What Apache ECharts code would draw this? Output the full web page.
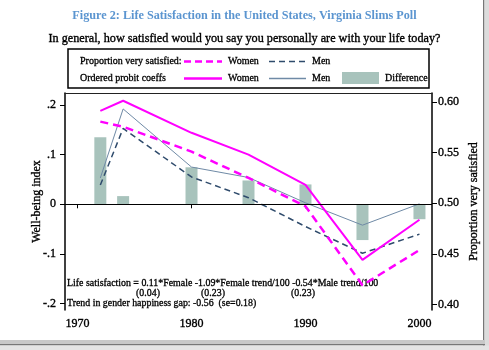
<!DOCTYPE html>
<html>
<head>
<meta charset="utf-8">
<script src="https://cdn.jsdelivr.net/npm/echarts@6/dist/echarts.min.js"></script>
<style>
  html, body { margin: 0; padding: 0; background: #fff; }
  #chart { width: 489px; height: 350px; }
</style>
</head>
<body>
<div id="chart"></div>
<script>
// data
const years = [1972, 1974, 1980, 1985, 1990, 1995, 2000]
const womenProbit = [0.188, 0.2085, 0.144, 0.100, 0.039, -0.112, -0.031]
const menProbit = [0.053, 0.192, 0.075, 0.054, 0.003, -0.042, 0.001]
const diffProbit = [0.135, 0.0165, 0.0745, 0.048, 0.040, -0.072, -0.030]
const womenProp = [0.5807, 0.5757, 0.551, 0.525, 0.497, 0.419, 0.4538]
const menProp = [0.518, 0.574, 0.526, 0.5055, 0.477, 0.4506, 0.4695]
const xTicks = [1970, 1980, 1990, 2000]
const leftTicks = [-0.2, -0.1, 0, 0.1, 0.2]
const leftTickLabels = ['-.2', '-.1', '0', '.1', '.2']
const rightTicks = [0.40, 0.45, 0.50, 0.55, 0.60]

const serif = '"Liberation Serif", "Times New Roman", serif'
const pink = '#ff00ff'
const menDark = '#2f4b6c'
const menLight = '#6f8aa6'
const barColor = '#a8c3bc'

const pair = (ys) => years.map((y, i) => [y, ys[i]])

const chart = echarts.init(document.getElementById('chart'), null, { renderer: 'canvas' })

// 文字稍微加粗一点，原图是模糊截图
const heavy = { textBorderColor: '#000', textBorderWidth: 0.35 }

const txt = (x, y, s, size, align) => ({
  type: 'text', x: x, y: y,
  style: {
    text: s, font: size + 'px ' + serif, fill: '#000',
    align: align || 'left', verticalAlign: 'middle',
    stroke: '#000', lineWidth: 0.3
  }
})
const legendLine = (x1, x2, y, color, width, dash) => ({
  type: 'line',
  shape: { x1: x1, y1: y, x2: x2, y2: y },
  style: { stroke: color, lineWidth: width, lineDash: dash || null }
})

const option = {
  animation: false,
  backgroundColor: '#fff',
  title: [
    {
      text: 'Figure 2: Life Satisfaction in the United States, Virginia Slims Poll',
      left: 'center', top: 5,
      textStyle: { fontFamily: serif, fontSize: 12.2, fontWeight: 'bold', color: '#5b95d0' }
    },
    {
      text: 'In general, how satisfied would you say you personally are with your life today?',
      left: 'center', top: 28,
      textStyle: Object.assign({ fontFamily: serif, fontSize: 12.2, fontWeight: 'normal', color: '#000' }, heavy)
    }
  ],
  grid: { left: 65, top: 93, right: 57, bottom: 40 },
  xAxis: [
    {
      type: 'value', min: 1968.9, max: 2001.1, offset: 2,
      axisLine: { show: false },
      axisTick: { show: true, length: 4, lineStyle: { color: '#000', width: 1 }, customValues: xTicks },
      axisLabel: Object.assign({
        customValues: xTicks, margin: 6, fontFamily: serif, fontSize: 12, color: '#000',
        formatter: (v) => String(v)
      }, heavy),
      splitLine: { show: false }
    },
    {
      type: 'value', position: 'top', min: 1968.9, max: 2001.1,
      axisLine: { show: true, lineStyle: { color: '#222', width: 1 } },
      axisTick: { show: false }, axisLabel: { show: false }, splitLine: { show: false }
    }
  ],
  yAxis: [
    {
      type: 'value', min: -0.2128, max: 0.2241,
      name: 'Well-being index', nameLocation: 'middle', nameGap: 22, nameMoveOverlap: false,
      nameTextStyle: Object.assign({ fontFamily: serif, fontSize: 12, color: '#000' }, heavy),
      axisLine: { show: true, lineStyle: { color: '#000', width: 1.5 } },
      axisTick: { show: true, length: 5, lineStyle: { color: '#000' }, customValues: leftTicks },
      axisLabel: Object.assign({
        customValues: leftTicks, margin: 9, fontFamily: serif, fontSize: 12, color: '#000',
        formatter: (v) => leftTickLabels[leftTicks.findIndex(t => Math.abs(t - v) < 1e-6)]
      }, heavy),
      splitLine: { show: false }
    },
    {
      type: 'value', min: 0.3945, max: 0.6090, position: 'right',
      name: 'Proportion very satisfied', nameLocation: 'middle', nameGap: 36, nameRotate: 90,
      nameMoveOverlap: false,
      nameTextStyle: Object.assign({ fontFamily: serif, fontSize: 12, color: '#000' }, heavy),
      axisLine: { show: true, lineStyle: { color: '#000', width: 1.5 } },
      axisTick: { show: true, length: 5, lineStyle: { color: '#000' }, customValues: rightTicks },
      axisLabel: Object.assign({
        customValues: rightTicks, margin: 6, fontFamily: serif, fontSize: 12, color: '#000',
        formatter: (v) => v.toFixed(2)
      }, heavy),
      splitLine: { show: false }
    }
  ],
  series: [
    {
      name: 'Difference', type: 'bar', xAxisIndex: 0, yAxisIndex: 0,
      barWidth: 12, itemStyle: { color: barColor },
      data: pair(diffProbit),
      markLine: {
        silent: true, symbol: 'none', label: { show: false },
        lineStyle: { color: '#000', width: 1, type: 'solid' },
        data: [{ yAxis: 0 }]
      },
      z: 1
    },
    {
      name: 'Men probit', type: 'line', yAxisIndex: 0, showSymbol: false, symbol: 'none',
      lineStyle: { color: menLight, width: 1 }, data: pair(menProbit), z: 3
    },
    {
      name: 'Men proportion', type: 'line', yAxisIndex: 1, showSymbol: false, symbol: 'none',
      lineStyle: { color: menDark, width: 1.5, type: [6, 4] }, data: pair(menProp), z: 3
    },
    {
      name: 'Women probit', type: 'line', yAxisIndex: 0, showSymbol: false, symbol: 'none',
      lineStyle: { color: pink, width: 2 }, data: pair(womenProbit), z: 4
    },
    {
      name: 'Women proportion', type: 'line', yAxisIndex: 1, showSymbol: false, symbol: 'none',
      lineStyle: { color: pink, width: 2.5, type: [8, 5] }, data: pair(womenProp), z: 4
    }
  ],
  graphic: [
    // legend box
    { type: 'rect', shape: { x: 68, y: 49, width: 361, height: 39 }, style: { fill: '#fff', stroke: '#000', lineWidth: 1.5 } },
    txt(80, 61.5, 'Proportion very satisfied:', 10),
    legendLine(184, 222, 61.5, pink, 2.5, [7, 4]),
    txt(228, 61.5, 'Women', 10),
    legendLine(269, 306, 61.5, menDark, 1.5, [6, 4]),
    txt(312, 61.5, 'Men', 10),
    txt(80, 78.5, 'Ordered probit coeffs', 10),
    legendLine(184, 222, 78.5, pink, 2.5),
    txt(228, 78.5, 'Women', 10),
    legendLine(269, 306, 78.5, menLight, 1.5),
    txt(312, 78.5, 'Men', 10),
    { type: 'rect', shape: { x: 342, y: 72, width: 37, height: 12 }, style: { fill: barColor } },
    txt(385, 78.5, 'Difference', 10),
    // regression note inside the plot
    txt(67, 283.5, 'Life satisfaction = 0.11*Female -1.09*Female trend/100 -0.54*Male trend/100', 9.9),
    txt(148, 293, '(0.04)', 9.9, 'center'),
    txt(213, 293, '(0.23)', 9.9, 'center'),
    txt(303, 293, '(0.23)', 9.9, 'center'),
    txt(67, 303, 'Trend in gender happiness gap: -0.56  (se=0.18)', 9.9),
    // page shadow at the right and bottom edges
    { type: 'rect', shape: { x: 483, y: 0, width: 1.5, height: 346 }, style: { fill: '#777' } },
    { type: 'rect', shape: { x: 484.5, y: 0, width: 5, height: 350 }, style: { fill: '#dcdcdc' } },
    { type: 'rect', shape: { x: 0, y: 340, width: 485, height: 4 }, style: { fill: '#c8c8c8' } },
    { type: 'rect', shape: { x: 0, y: 344, width: 485, height: 1.5 }, style: { fill: '#777' } },
    { type: 'rect', shape: { x: 0, y: 345.5, width: 489, height: 4.5 }, style: { fill: '#e4e4e4' } }
  ]
}

chart.setOption(option)
</script>
</body>
</html>
